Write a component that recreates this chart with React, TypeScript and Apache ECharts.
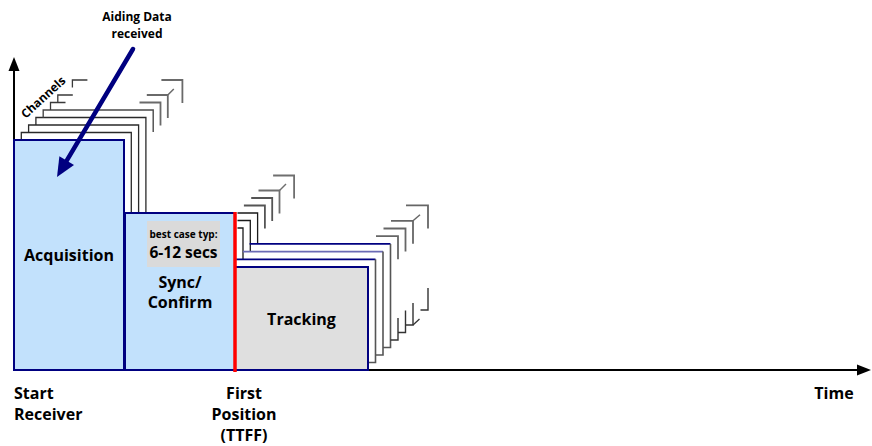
import React, { useEffect, useRef } from 'react';
import * as echarts from 'echarts';

// ---- data ----
const phaseNames = ['Acquisition', 'Sync/\nConfirm', 'Tracking'];
const phaseStart = [0, 111, 221];
const phaseEnd = [110, 221, 354];
const phaseChannels = [230, 157, 103];

const milestoneNames = ['Start\nReceiver', 'First\nPosition\n(TTFF)'];
const milestoneTimes = [0, 221];
const ttffTime = 221;

const aidingLabel = 'Aiding Data\nreceived';
const aidingTime = 43;
const aidingLevel = 193;

const hintLines = ['best case typ:', '6-12 secs'];
const hintTimes = [133, 206];
const hintLevels = [103, 149];

const axisNames = ['Time', 'Channels'];

// ---- styles ----
const FONT = '"Open Sans", "DejaVu Sans", sans-serif';
const NAVY = '#000080';
const phaseFills = ['#c2e1fc', '#c2e1fc', '#dfdfdf'];

type Seg = { pts: number[][]; color: string; width: number };

function buildStacks(): Seg[] {
  const segs: Seg[] = [];
  // acquisition stack (channels behind)
  const a0 = phaseStart[0], a1 = phaseEnd[0], ah = phaseChannels[0];
  const sTop = phaseChannels[1];
  const adx = 7.3, ady = 7.5;
  for (const k of [1, 2, 3, 4, 5, 6, 8]) {
    const L = a0 + k * adx, R = a1 + k * adx, T = ah + k * ady, Tp = T - ady;
    if (k <= 3) segs.push({ pts: [[L, Tp], [L, T], [R, T], [R, sTop]], color: '#2a2a2a', width: 1.3 });
    else if (k === 4) segs.push({ pts: [[L, Tp], [L, T], [R, T], [R, T - 22]], color: '#4a4a4a', width: 1.4 });
    else {
      segs.push({ pts: [[L, Tp], [L, T], [L + 15, T]], color: '#3a3a3a', width: 1.3 });
      segs.push({ pts: [[R - 21, T], [R, T], [R, T - 23]], color: '#6a6a6a', width: 1.8 });
      if (k === 6) segs.push({ pts: [[R, T], [R + 6, T + 6]], color: '#6a6a6a', width: 1.5 });
    }
  }
  // sync stack corners
  const s1 = phaseEnd[1], sh = phaseChannels[1];
  const t0 = phaseStart[2], t1 = phaseEnd[2], th = phaseChannels[2];
  const tdx = 7.5, tdy = 7.7;
  for (const j of [0, 1, 2, 3, 4, 5, 7]) {
    const R = s1 + 8 + 7.3 * j, T = sh - 15 + 7.5 * j;
    const left = Math.max(s1 + 2.5, R - 21);
    const bottom = j <= 2 ? th + (j + 1) * tdy : T - 23;
    const color = j <= 2 ? '#1a1a1a' : j <= 4 ? '#555' : '#6f6f6f';
    segs.push({ pts: [[left, T], [R, T], [R, bottom]], color, width: j <= 2 ? 1.3 : 1.8 });
    if (j === 5) segs.push({ pts: [[R, T], [R + 6.5, T + 6.5]], color: '#6f6f6f', width: 1.5 });
  }
  // tracking stack
  for (const k of [1, 2, 3, 4, 5, 6, 8]) {
    const R = t1 + tdx * k, T = th + tdy * k, B = 7.5 * k;
    if (k <= 3) {
      const L = t0 - 5.5 + 6.7 * k;
      segs.push({ pts: [[L, T], [R, T]], color: k === 2 ? '#6b6bb5' : NAVY, width: 1.8 });
      segs.push({ pts: [[R, T], [R, B], [R - tdx, B]], color: '#555', width: 1.6 });
    } else {
      segs.push({ pts: [[R - 22, T], [R, T], [R, T - 23]], color: '#666', width: 1.8 });
      segs.push({ pts: [[R, B + 22], [R, B], [R - tdx, B]], color: '#333', width: 1.4 });
      if (k === 6) {
        segs.push({ pts: [[R, T], [R + 7, T + 6]], color: '#666', width: 1.5 });
        segs.push({ pts: [[R, B], [R + 6.5, B + 6]], color: '#333', width: 1.3 });
      }
    }
  }
  return segs;
}

function textLines(lines: string[], x: number, yCenter: number, step: number, font: string, align: string) {
  const y0 = yCenter - ((lines.length - 1) * step) / 2;
  return lines.map((t, j) => ({
    type: 'text',
    x,
    y: y0 + j * step,
    style: { text: t, font, fill: '#000', align, verticalAlign: 'middle' },
  }));
}

export default function App() {
  const ref = useRef<HTMLDivElement>(null);

  useEffect(() => {
    if (!ref.current) return;
    const chart = echarts.init(ref.current, null, { renderer: 'svg' });
    const segs = buildStacks();

    const axisLine = { show: true, onZero: false, symbol: ['none', 'triangle'], symbolSize: [11, 14], lineStyle: { color: '#000', width: 2 } };

    const option: any = {
      animation: false,
      backgroundColor: '#ffffff',
      grid: { left: 14, right: 8, top: 64, bottom: 76 },
      xAxis: {
        type: 'value', min: 0, max: 850, axisLine,
        axisTick: { show: false }, axisLabel: { show: false }, splitLine: { show: false },
      },
      yAxis: {
        type: 'value', min: 0, max: 306, axisLine,
        axisTick: { show: false }, axisLabel: { show: false }, splitLine: { show: false },
      },
      graphic: [
        {
          type: 'text', x: 834, y: 393, z: 100,
          style: { text: axisNames[0], font: `bold 16px ${FONT}`, fill: '#000', align: 'center', verticalAlign: 'middle' },
        },
        {
          type: 'text', x: 43, y: 97, rotation: 0.74, z: 100,
          style: { text: axisNames[1], font: `bold 12px ${FONT}`, fill: '#000', align: 'center', verticalAlign: 'middle' },
        },
      ],
      series: [
        {
          type: 'custom', name: 'stacks', z: 1, silent: true,
          data: [[0, 0]],
          renderItem: (params: any, api: any) => ({
            type: 'group',
            children: segs.map((s) => ({
              type: 'polyline',
              shape: { points: s.pts.map((p) => api.coord(p)) },
              style: { stroke: s.color, lineWidth: s.width, fill: 'none' },
            })),
          }),
        },
        {
          type: 'custom', name: 'phases', z: 2, silent: true,
          data: phaseNames.map((_, i) => [phaseStart[i], phaseChannels[i], phaseEnd[i]]),
          encode: { x: [0, 2], y: 1 },
          renderItem: (params: any, api: any) => {
            const i = params.dataIndex;
            const p0 = api.coord([phaseStart[i], phaseChannels[i]]);
            const p1 = api.coord([phaseEnd[i], 0]);
            return {
              type: 'group',
              children: [
                {
                  type: 'rect',
                  shape: { x: p0[0], y: p0[1], width: p1[0] - p0[0], height: p1[1] - p0[1] },
                  style: { fill: phaseFills[i], stroke: NAVY, lineWidth: 2 },
                },
                ...textLines(phaseNames[i].split('\n'), (p0[0] + p1[0]) / 2, (p0[1] + p1[1]) / 2, 20, `bold 16px ${FONT}`, 'center'),
              ],
            };
          },
        },
        {
          type: 'custom', name: 'hint', z: 3, silent: true,
          data: [[hintTimes[0], hintLevels[1]]],
          renderItem: (params: any, api: any) => {
            const p0 = api.coord([hintTimes[0], hintLevels[1]]);
            const p1 = api.coord([hintTimes[1], hintLevels[0]]);
            const cx = (p0[0] + p1[0]) / 2;
            return {
              type: 'group',
              children: [
                { type: 'rect', shape: { x: p0[0], y: p0[1], width: p1[0] - p0[0], height: p1[1] - p0[1] }, style: { fill: '#dadada' } },
                { type: 'text', x: cx, y: p0[1] + 13, style: { text: hintLines[0], font: `bold 10px ${FONT}`, fill: '#000', align: 'center', verticalAlign: 'middle' } },
                { type: 'text', x: cx, y: p0[1] + 31, style: { text: hintLines[1], font: `bold 15.5px ${FONT}`, fill: '#000', align: 'center', verticalAlign: 'middle' } },
              ],
            };
          },
        },
        {
          type: 'custom', name: 'ttff', z: 4, silent: true,
          data: [[ttffTime, 0]],
          renderItem: (params: any, api: any) => {
            const a = api.coord([ttffTime, phaseChannels[1] + 1]);
            const b = api.coord([ttffTime, -2]);
            return { type: 'line', shape: { x1: a[0], y1: a[1], x2: b[0], y2: b[1] }, style: { stroke: '#ff0000', lineWidth: 3.5 } };
          },
        },
        {
          type: 'custom', name: 'milestones', z: 5, silent: true,
          data: milestoneTimes.map((t) => [t, 0]),
          renderItem: (params: any, api: any) => {
            const i = params.dataIndex;
            const p = api.coord([milestoneTimes[i], 0]);
            const first = i === 0;
            const lines = milestoneNames[i].split('\n');
            return {
              type: 'group',
              children: lines.map((t, j) => ({
                type: 'text',
                x: first ? p[0] : p[0] + 9,
                y: p[1] + 23 + j * 21,
                style: { text: t, font: `bold 16px ${FONT}`, fill: '#000', align: first ? 'left' : 'center', verticalAlign: 'middle' },
              })),
            };
          },
        },
        {
          type: 'custom', name: 'aiding', z: 6, silent: true,
          data: [[aidingTime, aidingLevel]],
          renderItem: (params: any, api: any) => {
            const tip = api.coord([aidingTime, aidingLevel]);
            const tail = [tip[0] + 76, tip[1] - 128];
            const dx = tip[0] - tail[0], dy = tip[1] - tail[1];
            const len = Math.sqrt(dx * dx + dy * dy);
            const ux = dx / len, uy = dy / len;
            const nx = -uy, ny = ux;
            const head = 19, hw = 8.5;
            const bx = tip[0] - ux * head, by = tip[1] - uy * head;
            return {
              type: 'group',
              children: [
                { type: 'line', shape: { x1: tail[0], y1: tail[1], x2: bx + ux * 2, y2: by + uy * 2 }, style: { stroke: NAVY, lineWidth: 4.5, lineCap: 'round' } },
                { type: 'polygon', shape: { points: [[tip[0], tip[1]], [bx + nx * hw, by + ny * hw], [bx - nx * hw, by - ny * hw]] }, style: { fill: NAVY } },
                ...textLines(aidingLabel.split('\n'), tail[0] + 4, tail[1] - 24.5, 17, `bold 12px ${FONT}`, 'center'),
              ],
            };
          },
        },
      ],
    };
    chart.setOption(option);
    return () => chart.dispose();
  }, []);

  return <div ref={ref} style={{ position: 'fixed', left: 0, top: 0, width: 872, height: 446 }} />;
}
